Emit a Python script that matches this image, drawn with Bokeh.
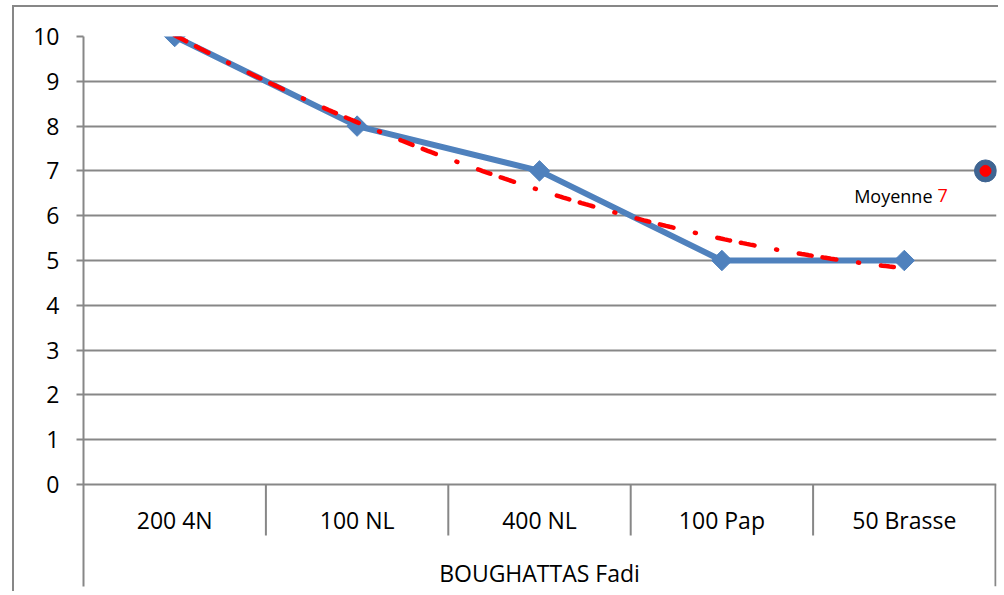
import numpy as np
from bokeh.plotting import figure
from bokeh.models import Range1d, FixedTicker
from bokeh.core.properties import value
from bokeh.embed import file_html
from bokeh.resources import INLINE

# ---- data ----
categories = ["200 4N", "100 NL", "400 NL", "100 Pap", "50 Brasse"]
group_label = "BOUGHATTAS Fadi"
scores = [10, 8, 7, 5, 5]
y_ticks = list(range(0, 11))
mean_label = "Moyenne"

x_pos = np.arange(1, len(categories) + 1)
mean_val = float(np.mean(scores))
# polynomial (order 2) trendline as computed by the spreadsheet
coef = np.polyfit(x_pos, scores, 2)
xt = np.linspace(1, len(categories), 200)
yt = np.polyval(coef, xt)

FONT = "Open Sans"
GRID = "#878787"
BLUE = "#4F81BD"

# canvas starts at page (14, 7) because of the chart-area border below
OX, OY = 14, 7
LB, TB = 83 - OX, 36 - OY
RB, BB = 4, 7
W = 996 - OX + RB
H = 586 - OY + BB
FW = W - LB - RB
FH = H - TB - BB
PX_X = 182.4
PX_Y = 44.8
x_end = 0.5 + FW / PX_X
y_start = 10 - FH / PX_Y

p = figure(width=W, height=H, output_backend="svg", toolbar_location=None,
           x_axis_type=None, x_range=Range1d(0.5, x_end), y_range=Range1d(y_start, 10),
           min_border_left=LB, min_border_right=RB, min_border_top=TB, min_border_bottom=BB)
p.outline_line_color = None
p.background_fill_color = "white"
p.border_fill_color = "white"
p.styles = {"margin-left": "12px", "margin-top": "5px",
            "border-left": "2px solid " + GRID, "border-top": "2px solid " + GRID}

# y axis
ya = p.yaxis[0]
ya.ticker = FixedTicker(ticks=y_ticks)
ya.major_tick_out = 7
ya.major_tick_in = 0
ya.minor_tick_out = 0
ya.minor_tick_in = 0
ya.axis_line_color = GRID
ya.axis_line_width = 2
ya.major_tick_line_color = GRID
ya.major_tick_line_width = 2
ya.major_label_text_font = FONT
ya.major_label_text_font_size = "23px"
ya.major_label_text_color = "black"
ya.major_label_standoff = 17

p.ygrid.ticker = FixedTicker(ticks=y_ticks)
p.ygrid.grid_line_color = GRID
p.ygrid.grid_line_width = 2

# category axis drawn in the area below zero
n = len(categories)
sep_x = [i + 0.5 for i in range(1, n)]
p.segment(x0=sep_x, y0=[0] * len(sep_x), x1=sep_x, y1=[-51 / PX_Y] * len(sep_x),
          line_color=GRID, line_width=2)
p.segment(x0=[n + 0.5], y0=[0], x1=[n + 0.5], y1=[y_start], line_color=GRID, line_width=2)
p.text(x=list(x_pos), y=[-35 / PX_Y] * n, text=categories, text_font=value(FONT),
       text_font_size="23px", text_align="center", text_baseline="middle", text_color="black")
p.text(x=[(n + 1) / 2], y=[-88 / PX_Y], text=[group_label], text_font=value(FONT),
       text_font_size="23px", text_align="center", text_baseline="middle", text_color="black")

# series
p.line(x=list(x_pos), y=scores, line_color=BLUE, line_width=6)
p.scatter(x=list(x_pos), y=scores, marker="square", angle=np.pi / 4, size=14.5,
          fill_color=BLUE, line_color=BLUE)

# trendline
p.line(x=xt, y=yt, line_color="red", line_width=4.5, line_cap="round",
       line_dash="13 11 14 22 1 22")

# mean marker
mx = 0.5 + (985 - 83) / PX_X
p.scatter(x=[mx], y=[mean_val], marker="circle", size=22, fill_color="#3F6592", line_color="#3F6592")
p.scatter(x=[mx], y=[mean_val], marker="circle", size=11, fill_color="red", line_color="red")
ty = mean_val - 25 / PX_Y
p.text(x=[0.5 + (932 - 83) / PX_X], y=[ty], text=[mean_label], text_font=value(FONT),
       text_font_size="18px", text_align="right", text_baseline="middle", text_color="black")
p.text(x=[0.5 + (937 - 83) / PX_X], y=[ty], text=["%g" % mean_val], text_font=value(FONT),
       text_font_size="18px", text_align="left", text_baseline="middle", text_color="red")

open("out.html", "w").write(file_html(p, INLINE))
